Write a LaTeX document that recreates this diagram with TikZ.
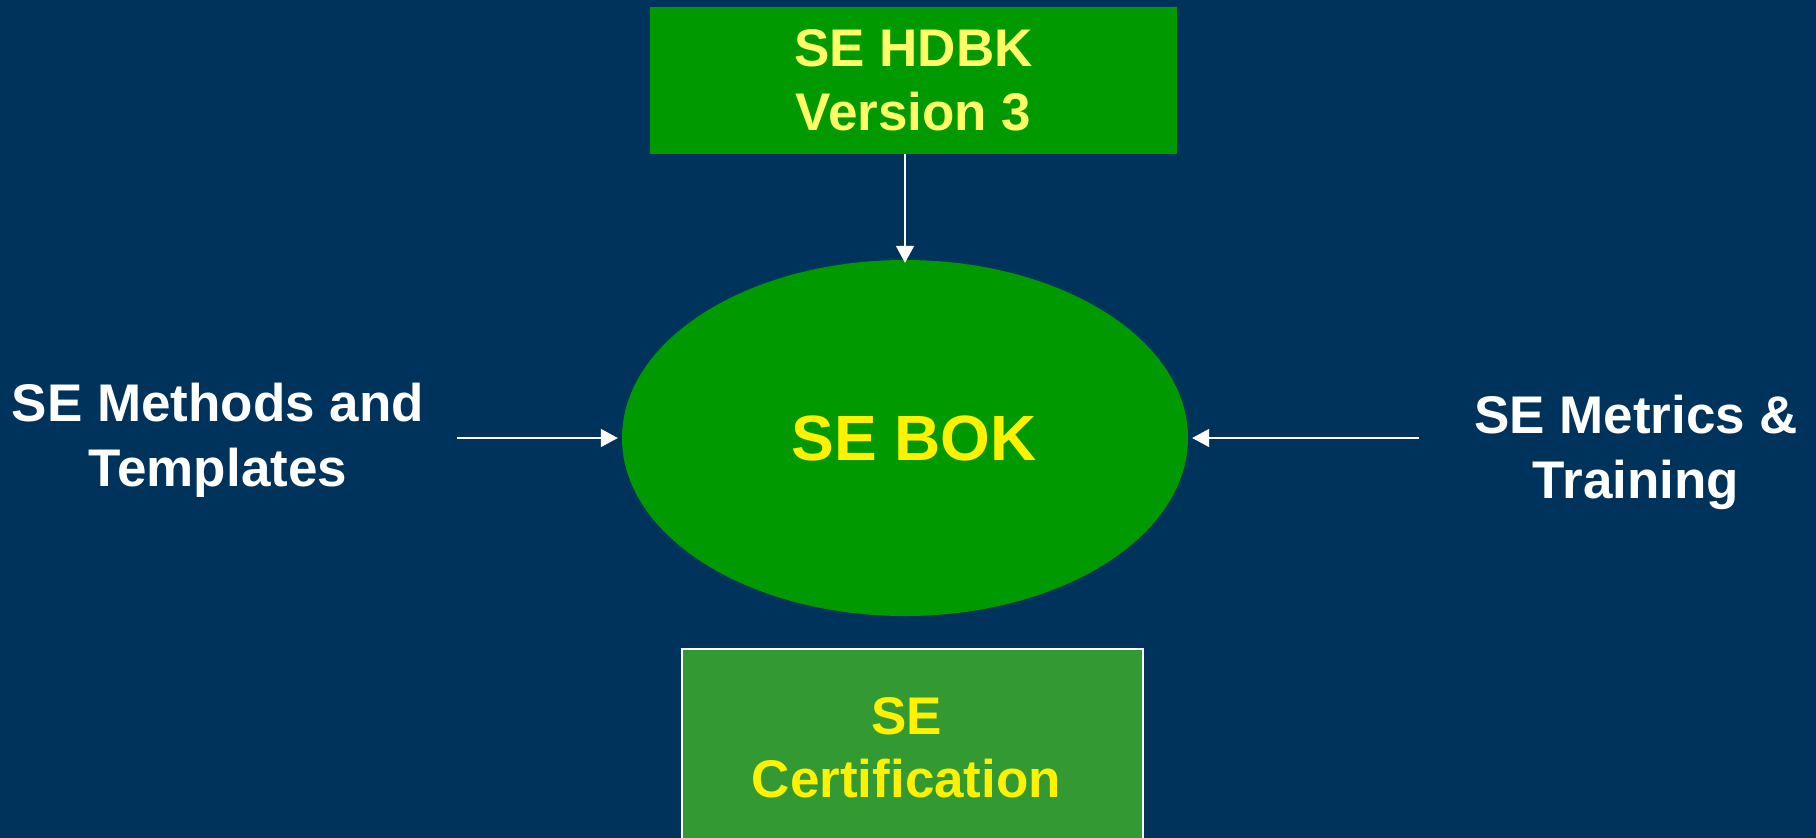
\documentclass[tikz,border=0pt]{standalone}
\usepackage{fontspec}
\setmainfont{Liberation Sans}
\usetikzlibrary{arrows.meta,shapes.geometric}
\definecolor{navy}{RGB}{0,51,92}
\definecolor{boxgreen}{RGB}{0,153,0}
\definecolor{certgreen}{RGB}{51,153,51}
\definecolor{paleyellow}{RGB}{255,255,102}

\begin{document}
\begin{tikzpicture}[x=1pt,y=-1pt,
    flow/.style={draw=white,line width=1.6pt,-{Triangle[width=18pt,length=17pt]}},
    sidetext/.style={text=white,align=center,inner sep=0pt,font=\fontsize{53}{65}\selectfont\bfseries}]
        % background
        \fill[navy] (0,0) rectangle (1816,838);
        \clip (0,0) rectangle (1816,838);

        % central body of knowledge
        \node[ellipse,fill=boxgreen,minimum width=566pt,minimum height=356pt,inner sep=0pt,
              text=yellow,font=\fontsize{64}{72}\selectfont\bfseries] (bok) at (905,438) {\hspace*{18pt}SE BOK};

        % handbook on top
        \node[fill=boxgreen,minimum width=527pt,minimum height=147pt,align=center,
              text=paleyellow,font=\fontsize{53}{64}\selectfont\bfseries] (hdbk) at (913.5,80.5) {SE HDBK\\Version 3};

        % certification below
        \node[fill=certgreen,draw=white,line width=1.5pt,minimum width=461pt,minimum height=198pt,align=center,
              text=yellow,font=\fontsize{53}{63}\selectfont\bfseries] (cert) at (912.5,748) {SE\hspace*{12pt}\\Certification\hspace*{12pt}};

        % side inputs
        \node[sidetext] (methods) at (218,440) {SE Methods and\\Templates};
        \node[sidetext] (metrics) at (1636,452) {SE Metrics \&\\Training};

        \draw[flow,shorten >=-3pt] (hdbk.south -| bok.north) -- (bok.north);
        \draw[flow,shorten <=33pt,shorten >=4pt] (methods.east |- bok.west) -- (bok.west);
        \draw[flow,shorten <=55pt,shorten >=4pt] (metrics.west |- bok.east) -- (bok.east);
\end{tikzpicture}
\end{document}
